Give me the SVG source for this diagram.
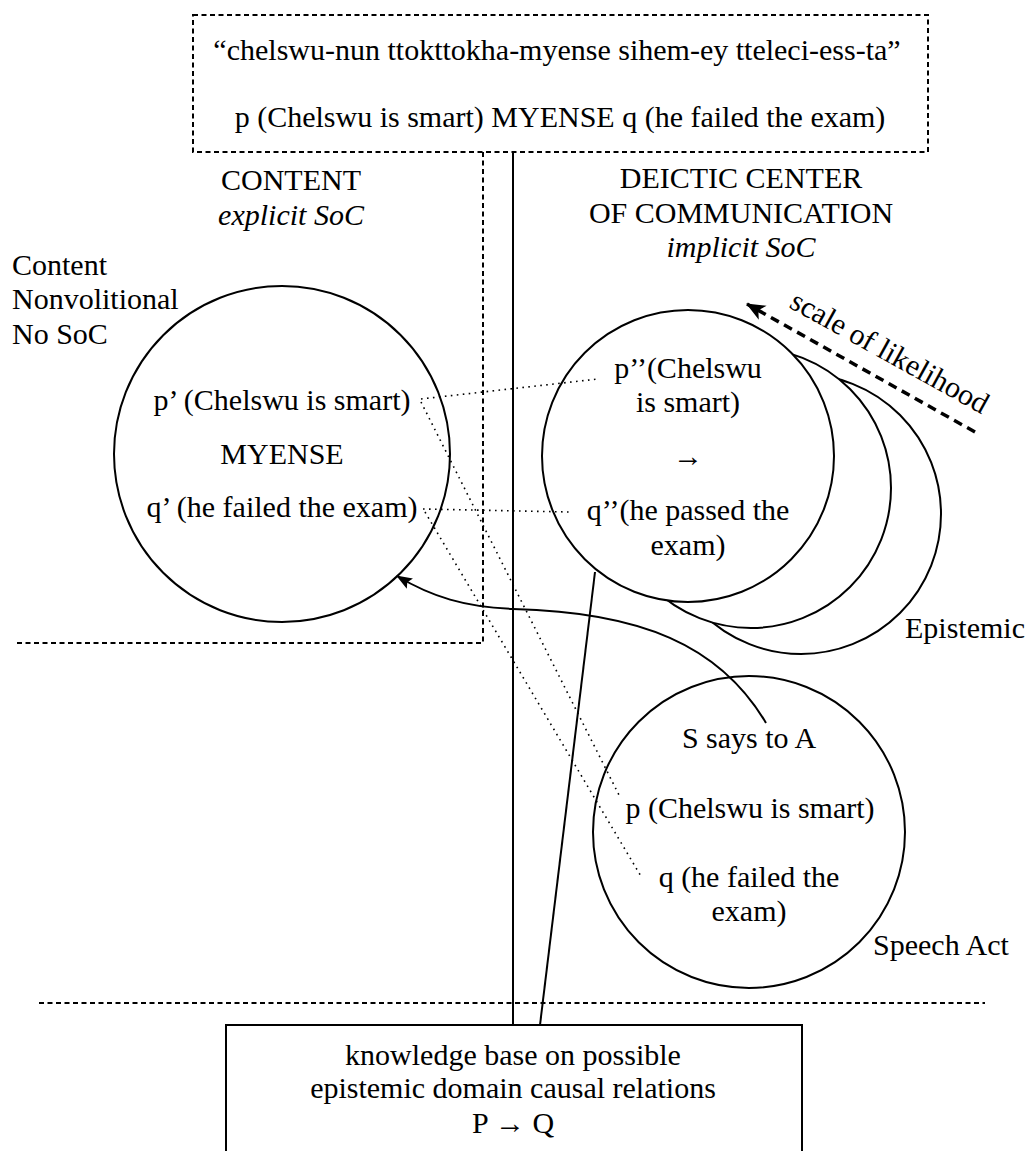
<svg xmlns="http://www.w3.org/2000/svg" width="1026" height="1151" viewBox="0 0 1026 1151">
<style>
text{font-family:"Liberation Serif","Times New Roman",serif;font-size:30px;fill:#000}
.c{text-anchor:middle}
.it{font-style:italic}
.dash{fill:none;stroke:#000;stroke-width:2;stroke-dasharray:5,3.5}
.dot{fill:none;stroke:#000;stroke-width:1.6;stroke-dasharray:1.6,4.4}
.solid{fill:none;stroke:#000;stroke-width:2}
.circ{fill:none;stroke:#000;stroke-width:2}
.wcirc{fill:#fff;stroke:#000;stroke-width:2}
</style>
<defs>
<marker id="ah" markerWidth="16" markerHeight="14" refX="15" refY="6" orient="auto" markerUnits="userSpaceOnUse" viewBox="0 0 16 12">
<path d="M0,0 L16,6 L0,12 L3,6 z" fill="#000"/>
</marker>
<marker id="ah2" markerWidth="20" markerHeight="18" refX="18" refY="8" orient="auto" markerUnits="userSpaceOnUse" viewBox="0 0 20 16">
<path d="M0,0 L19,8 L0,16 L5,8 z" fill="#000"/>
</marker>
</defs>

<g id="regions">
<rect x="193" y="15" width="735" height="137" class="dash"/>
<polyline points="483,152 483,643 15,643" class="dash"/>
<line x1="39" y1="1003" x2="985" y2="1003" class="dash" stroke-dasharray="4,3"/>
</g>

<g id="top-box">
<text x="557" y="60" class="c">“chelswu-nun ttokttokha-myense sihem-ey tteleci-ess-ta”</text>
<text x="560" y="127" class="c">p (Chelswu is smart) MYENSE q (he failed the exam)</text>
</g>

<g id="content-label">
<text x="291" y="190" class="c">CONTENT</text>
<text x="291" y="225" class="c it">explicit SoC</text>
</g>

<g id="deictic-label">
<text x="741" y="188" class="c">DEICTIC CENTER</text>
<text x="741" y="223" class="c">OF COMMUNICATION</text>
<text x="741" y="257" class="c it">implicit SoC</text>
</g>

<g id="content-side-label">
<text x="12" y="275">Content</text>
<text x="12" y="309">Nonvolitional</text>
<text x="12" y="344">No SoC</text>
</g>

<g id="content-circle">
<circle cx="282" cy="454" r="168" class="circ"/>
<text x="282" y="410" class="c">p’ (Chelswu is smart)</text>
<text x="282" y="464" class="c">MYENSE</text>
<text x="282" y="517" class="c">q’ (he failed the exam)</text>
</g>

<g id="epistemic-circles">
<circle cx="801" cy="514" r="140" class="wcirc"/>
<circle cx="751" cy="488" r="140" class="wcirc"/>
<circle cx="688" cy="456" r="146" class="wcirc" stroke-width="3.5"/>
<text x="688" y="378" class="c">p’’(Chelswu</text>
<text x="688" y="412" class="c">is smart)</text>
<text x="688" y="466" class="c">→</text>
<text x="688" y="520" class="c">q’’(he passed the</text>
<text x="688" y="555" class="c">exam)</text>
<text x="905" y="638">Epistemic</text>
</g>

<g id="speech-act-circle">
<circle cx="749" cy="832" r="156" class="circ"/>
<text x="749" y="748" class="c">S says to A</text>
<text x="750" y="818" class="c">p (Chelswu is smart)</text>
<text x="749" y="887" class="c">q (he failed the</text>
<text x="749" y="921" class="c">exam)</text>
<text x="873" y="955">Speech Act</text>
</g>

<g id="knowledge-box">
<rect x="226" y="1025" width="576" height="140" class="solid"/>
<text x="513" y="1065" class="c">knowledge base on possible</text>
<text x="513" y="1098" class="c">epistemic domain causal relations</text>
<text x="513" y="1133" class="c">P → Q</text>
</g>

<g id="scale-label">
<text x="788" y="307" transform="rotate(29 788 307)">scale of likelihood</text>
</g>

<g id="connectors">
<line x1="513" y1="152" x2="513" y2="1025" class="solid"/>
<line x1="595" y1="572" x2="540" y2="1025" class="solid"/>
<line x1="421" y1="399" x2="598" y2="379" class="dot"/>
<line x1="421" y1="402" x2="620" y2="797" class="dot"/>
<line x1="423" y1="509" x2="570" y2="512" class="dot"/>
<line x1="425" y1="512" x2="642" y2="878" class="dot"/>
<path d="M766,723 C720,645 640,612 513,609 C465,607 432,597 397,576" class="solid" marker-end="url(#ah)"/>
<line x1="975" y1="432" x2="747" y2="304" fill="none" stroke="#000" stroke-width="3.5" stroke-dasharray="9,6" marker-end="url(#ah2)"/>
</g>
</svg>
